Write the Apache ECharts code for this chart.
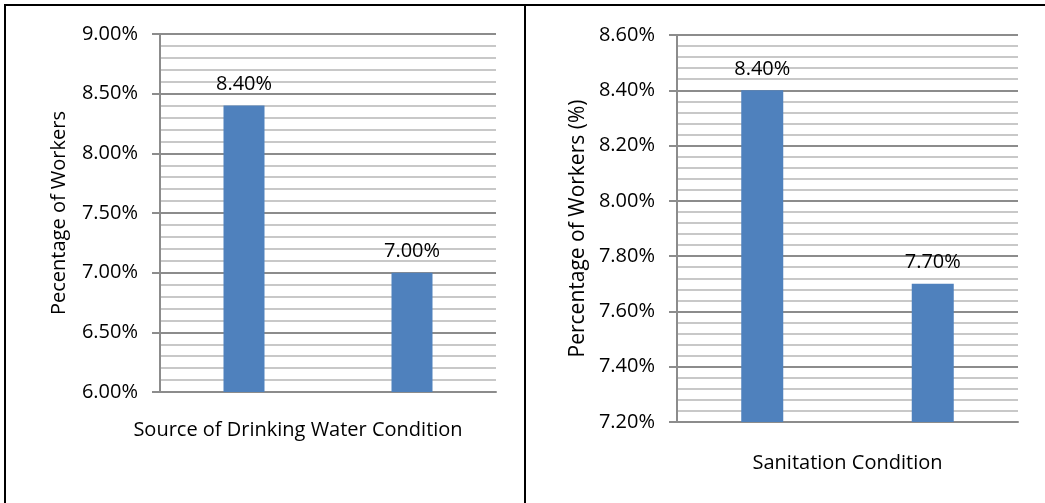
<!DOCTYPE html>
<html>
<head>
<meta charset="utf-8">
<script src="https://cdn.jsdelivr.net/npm/echarts@6/dist/echarts.min.js"></script>
<style>
html,body{margin:0;padding:0;background:#fff;}
#chart{width:1045px;height:503px;}
</style>
</head>
<body>
<div id="chart"></div>
<script>
// Data
const waterCategories = ['Condition A', 'Condition B'];
const waterValues = [8.40, 7.00];
const sanitationCategories = ['Condition A', 'Condition B'];
const sanitationValues = [8.40, 7.70];
const waterTitle = 'Source of Drinking Water Condition';
const sanitationTitle = 'Sanitation Condition';
const waterYTitle = 'Pecentage of Workers';
const sanitationYTitle = 'Percentage of Workers (%)';

const FONT = '"Open Sans", "Noto Sans", sans-serif';
const pct = v => Number(v).toFixed(2) + '%';

function yAxis(gridIndex, min, max, interval, name, gap, nameSize) {
  return {
    type: 'value', gridIndex, min, max, interval,
    name, nameLocation: 'middle', nameGap: gap, nameRotate: 90,
    nameTextStyle: {fontFamily: FONT, fontSize: nameSize, color: '#000'},
    axisLine: {show: true, lineStyle: {color: '#8c8c8c', width: 2}},
    axisTick: {show: true, length: 8, lineStyle: {color: '#8c8c8c', width: 2}},
    axisLabel: {formatter: pct, fontFamily: FONT, fontSize: 20, color: '#000', margin: 22},
    splitLine: {show: true, lineStyle: {color: '#8c8c8c', width: 2}},
    minorTick: {show: false, splitNumber: 5},
    minorSplitLine: {show: true, lineStyle: {color: '#c8c8c8', width: 2}}
  };
}
function xAxis(gridIndex, data, name, gap, pad) {
  return {
    type: 'category', gridIndex, data,
    name, nameLocation: 'middle', nameGap: gap,
    nameTextStyle: {fontFamily: FONT, fontSize: 20, color: '#000', padding: pad},
    axisLine: {show: true, lineStyle: {color: '#8c8c8c', width: 2}},
    axisTick: {show: false},
    axisLabel: {show: false}
  };
}
function bars(idx, data, width) {
  return {
    type: 'bar', xAxisIndex: idx, yAxisIndex: idx, data, barWidth: width,
    itemStyle: {color: '#4f81bd'},
    label: {show: true, position: 'top', distance: 11, formatter: p => pct(p.value),
      fontFamily: FONT, fontSize: 20, color: '#000'}
  };
}

const chart = echarts.init(document.getElementById('chart'));
chart.setOption({
  animation: false,
  backgroundColor: '#fff',
  grid: [
    {left: 160, top: 34, width: 336, height: 358},
    {left: 677, top: 35, width: 341, height: 387}
  ],
  xAxis: [
    xAxis(0, waterCategories, waterTitle, 28, [0, 60, 0, 0]),
    xAxis(1, sanitationCategories, sanitationTitle, 31, [0, 0, 0, 0])
  ],
  yAxis: [
    yAxis(0, 6, 9, 0.5, waterYTitle, 91, 20),
    yAxis(1, 7.2, 8.6, 0.2, sanitationYTitle, 88, 21)
  ],
  series: [
    bars(0, waterValues, 41),
    bars(1, sanitationValues, 42)
  ],
  graphic: [
    {type: 'rect', shape: {x: 4, y: 4, width: 2, height: 499}, style: {fill: '#000'}},
    {type: 'rect', shape: {x: 4, y: 4, width: 1041, height: 2}, style: {fill: '#000'}},
    {type: 'rect', shape: {x: 524, y: 4, width: 2, height: 499}, style: {fill: '#000'}}
  ]
});
</script>
</body>
</html>
